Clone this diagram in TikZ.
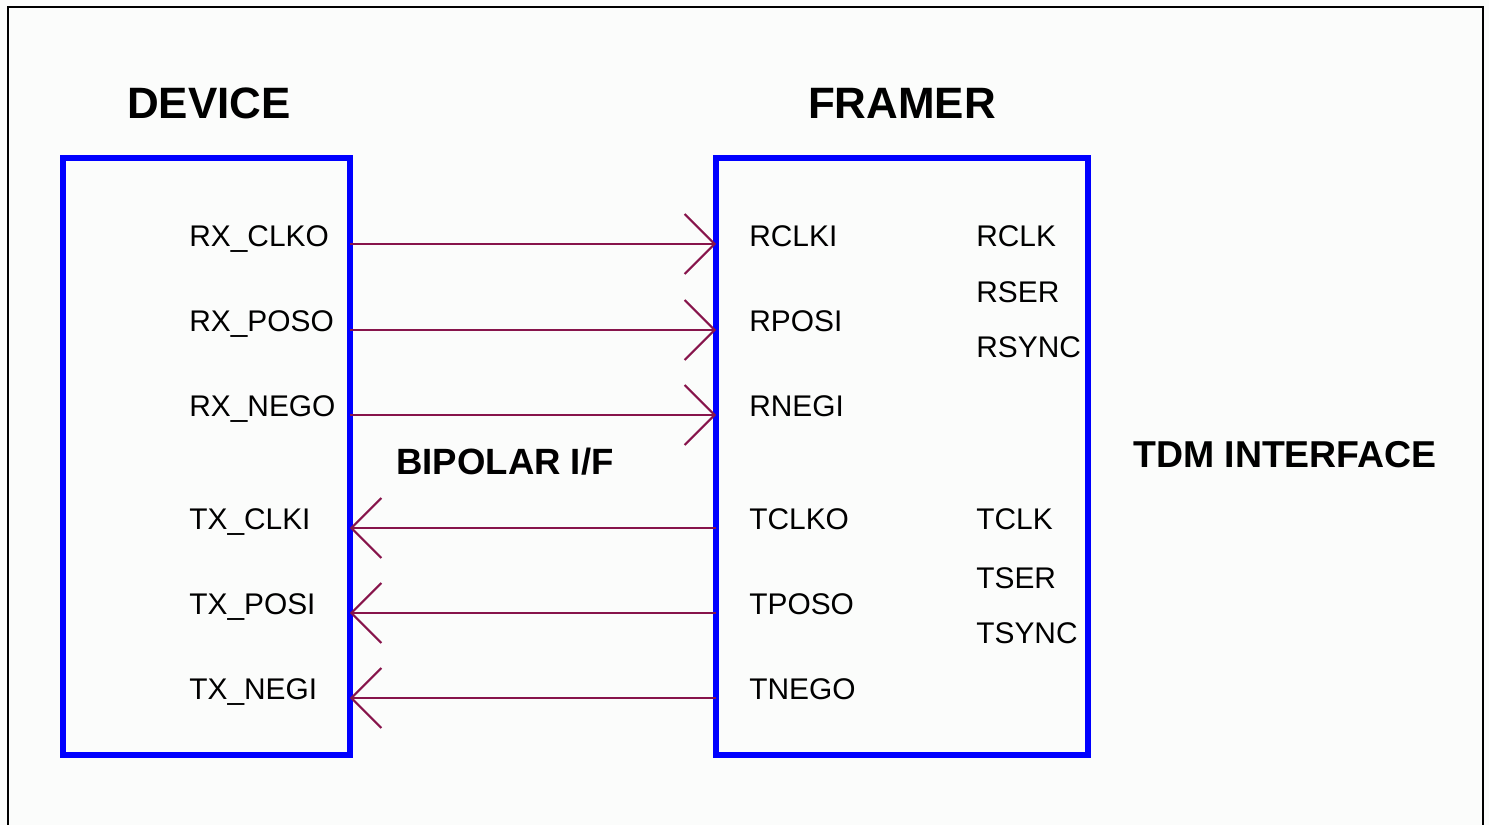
\documentclass[tikz,border=0pt]{standalone}
\usepackage{fontspec}
\setmainfont{Liberation Sans}
\usetikzlibrary{arrows.meta}

\definecolor{boxblue}{RGB}{0,0,255}
\definecolor{sigred}{RGB}{135,20,75}
\definecolor{paper}{RGB}{251,252,251}

\tikzset{
    chip/.style={draw=boxblue, line width=3.4pt, outer sep=0pt, inner sep=0pt},
    pin/.style={anchor=base west, inner sep=0pt, font=\fontsize{17}{20}\selectfont},
    title/.style={anchor=base, inner sep=0pt, font=\bfseries\fontsize{25}{30}\selectfont},
    sig/.style={draw=sigred, line width=1.2pt,
        -{Straight Barb[length=0.6cm, width=1.2cm, line width=1.2pt]}}
}

\begin{document}
\begin{tikzpicture}[x=0.02cm, y=-0.02cm]
    % 背景与外框
    \useasboundingbox[fill=paper] (0,0) rectangle (1489,825);
    \draw[line width=1.3pt] (8,830) -- (8,7) -- (1483,7) -- (1483,830);

    % 模块框
    \node[chip, minimum width=5.74cm, minimum height=11.94cm] (dev) at (206.5,456.5) {};
    \node[chip, minimum width=7.44cm, minimum height=11.94cm] (fr) at (902,456.5) {};

    % 标题
    \node[title] (devname) at (209,118) {DEVICE};
    \node[title] (frname) at (902,118) {FRAMER};
    \node[title, font=\bfseries\fontsize{20.8}{24}\selectfont] (bip) at (505,474) {BIPOLAR I/F};
    \node[title, font=\bfseries\fontsize{21.3}{24}\selectfont] (tdm) at (1285,467) {TDM INTERFACE};

    % 器件引脚
    \node[pin] (rxclko) at (189,246) {RX\_CLKO};
    \node[pin] (rxposo) at (189,331) {RX\_POSO};
    \node[pin] (rxnego) at (189,416) {RX\_NEGO};
    \node[pin] (txclki) at (189,529) {TX\_CLKI};
    \node[pin] (txposi) at (189,614) {TX\_POSI};
    \node[pin] (txnegi) at (189,699) {TX\_NEGI};

    % 成帧器引脚（左）
    \node[pin] (rclki) at (749,246) {RCLKI};
    \node[pin] (rposi) at (749,331) {RPOSI};
    \node[pin] (rnegi) at (749,416) {RNEGI};
    \node[pin] (tclko) at (749,529) {TCLKO};
    \node[pin] (tposo) at (749,614) {TPOSO};
    \node[pin] (tnego) at (749,699) {TNEGO};

    % 成帧器引脚（右）
    \node[pin] (rclk)  at (976,246) {RCLK};
    \node[pin] (rser)  at (976,302) {RSER};
    \node[pin] (rsync) at (976,357) {RSYNC};
    \node[pin] (tclk)  at (976,529) {TCLK};
    \node[pin] (tser)  at (976,588) {TSER};
    \node[pin] (tsync) at (976,643) {TSYNC};

    % 信号线
    \coordinate (l1) at (0,244);
    \coordinate (l2) at (0,330);
    \coordinate (l3) at (0,415);
    \coordinate (l4) at (0,528);
    \coordinate (l5) at (0,613);
    \coordinate (l6) at (0,698);

    \draw[sig] (dev.east |- l1) -- (fr.west |- l1);
    \draw[sig] (dev.east |- l2) -- (fr.west |- l2);
    \draw[sig] (dev.east |- l3) -- (fr.west |- l3);
    \draw[sig] (fr.west |- l4) -- (dev.east |- l4);
    \draw[sig] (fr.west |- l5) -- (dev.east |- l5);
    \draw[sig] (fr.west |- l6) -- (dev.east |- l6);
\end{tikzpicture}
\end{document}
